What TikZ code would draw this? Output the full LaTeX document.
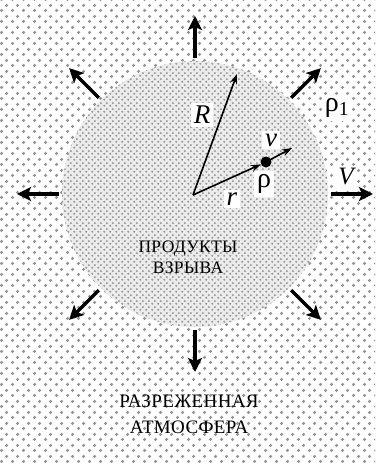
\documentclass[tikz,border=0pt]{standalone}
\usepackage{fontspec}
\setmainfont{Liberation Serif}
\newfontfamily\capsfont[LetterSpace=2]{Liberation Serif}
\usetikzlibrary{arrows.meta,patterns,calc}

% coarse dots outside, fine dots inside the cloud
\pgfdeclarepatternformonly{outerdots}{\pgfpointorigin}{\pgfpoint{11pt}{11pt}}{\pgfpoint{11pt}{11pt}}{%
  \pgfpathcircle{\pgfpoint{2.75pt}{2.75pt}}{1.9pt}%
  \pgfpathcircle{\pgfpoint{8.25pt}{8.25pt}}{1.9pt}%
  \pgfusepath{fill}}
\pgfdeclarepatternformonly{innerdots}{\pgfpointorigin}{\pgfpoint{5.6pt}{5.6pt}}{\pgfpoint{5.6pt}{5.6pt}}{%
  \pgfpathcircle{\pgfpoint{1.4pt}{1.4pt}}{1.2pt}%
  \pgfpathcircle{\pgfpoint{4.2pt}{4.2pt}}{1.2pt}%
  \pgfusepath{fill}}

\begin{document}
\begin{tikzpicture}[x=1pt,y=-1pt,font=\fontsize{28}{28}\selectfont,
    burst/.style={line width=3.4pt,-{Stealth[length=14pt,width=14pt,inset=3pt]}},
    vec/.style={line width=1.6pt,-{Stealth[length=10pt,width=7pt]}},
    lbl/.style={fill=white,inner sep=3pt}]
  \useasboundingbox (0,0) rectangle (375,463);
  \fill[pattern=outerdots,pattern color=gray!85] (0,0) rectangle (375,463);
  \coordinate (o) at (195,194);
  \fill[gray!15] (o) circle[radius=133];
  \fill[pattern=innerdots,pattern color=gray!80] (o) circle[radius=133];

  % expansion arrows
  \foreach \a in {0,45,...,315}{
    \coordinate (s\a) at ($(o)+(\a:136)$);
    \coordinate (e\a) at ($(o)+(\a:178)$);
    \draw[burst] (s\a) -- (e\a);
  }

  % radius vectors
  \coordinate (c) at (193,195);
  \coordinate (Rtip) at (237,74);
  \coordinate (vtip) at (292,148);
  \node[circle,fill=black,inner sep=0pt,minimum size=11pt] (p) at (266,162) {};
  \draw[vec] (c) -- (Rtip);
  \draw[vec] (c) -- (p);
  \draw[vec] (p.center) -- (vtip);

  \node[lbl,font=\fontsize{27}{28}\selectfont\itshape] (R) at (202,115) {R};
  \node[lbl,font=\fontsize{27}{28}\selectfont\itshape] (r) at (232,199) {r};
  \node[lbl,font=\fontsize{27}{28}\selectfont\itshape] (v) at (271,140) {v};
  \node[lbl] (rho) at (264,184) {ρ};
  \node[lbl] (rho1) at (337,108) {ρ\textsubscript{1}};
  \node[lbl,font=\fontsize{25}{26}\selectfont\itshape] (V) at (346,177) {V};

  \node[align=center,font=\fontsize{17.5}{21}\selectfont\capsfont] (prod) at (188,257) {ПРОДУКТЫ\\ВЗРЫВА};
  \node[align=center,font=\fontsize{19}{26}\selectfont\capsfont] (atm) at (189,414) {РАЗРЕЖЕННАЯ\\АТМОСФЕРА};
\end{tikzpicture}
\end{document}
